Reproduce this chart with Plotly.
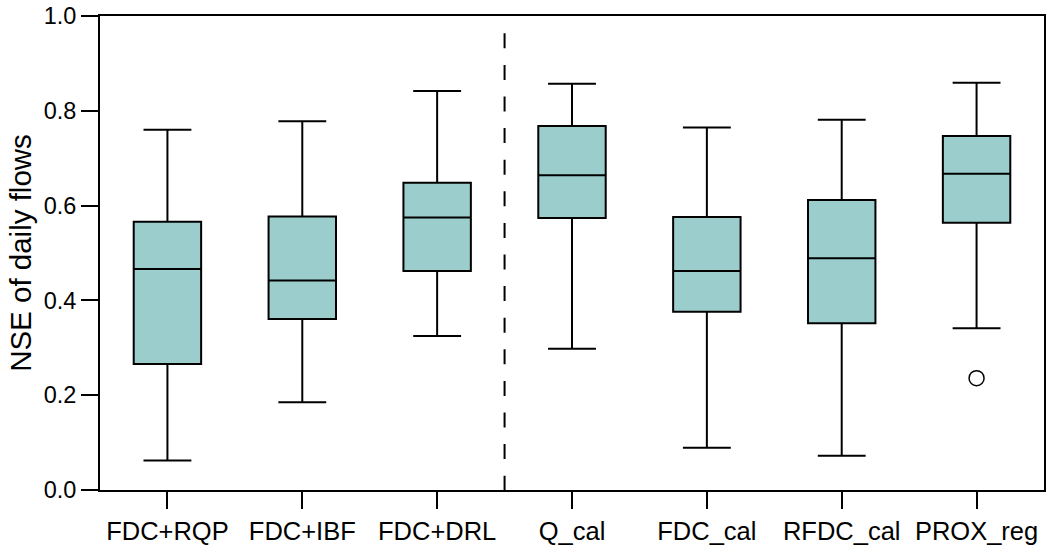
import plotly.graph_objects as go

categories = ["FDC+RQP", "FDC+IBF", "FDC+DRL", "Q_cal", "FDC_cal", "RFDC_cal", "PROX_reg"]
lower_whisker = [0.062, 0.185, 0.325, 0.298, 0.089, 0.072, 0.341]
q1_values = [0.266, 0.361, 0.462, 0.574, 0.376, 0.352, 0.564]
median_values = [0.466, 0.442, 0.575, 0.664, 0.462, 0.489, 0.667]
q3_values = [0.566, 0.577, 0.648, 0.768, 0.576, 0.612, 0.747]
upper_whisker = [0.760, 0.778, 0.842, 0.857, 0.765, 0.781, 0.859]
outlier_category = ["PROX_reg"]
outlier_value = [0.236]
y_ticks = [0.0, 0.2, 0.4, 0.6, 0.8, 1.0]

fig = go.Figure()
fig.add_trace(go.Box(
    x=categories,
    q1=q1_values,
    median=median_values,
    q3=q3_values,
    lowerfence=lower_whisker,
    upperfence=upper_whisker,
    fillcolor="#9BCDCD",
    line=dict(color="black", width=2),
    width=0.5,
    whiskerwidth=0.71,
    boxpoints=False,
    showlegend=False,
    hoverinfo="skip",
))
fig.add_trace(go.Scatter(
    x=outlier_category,
    y=outlier_value,
    mode="markers",
    marker=dict(symbol="circle-open", size=15, color="black", line=dict(width=1.5)),
    showlegend=False,
    hoverinfo="skip",
))

fig.add_shape(type="line", xref="x", yref="paper", x0=2.5, x1=2.5, y0=0.9635, y1=0,
              line=dict(color="black", width=2, dash="15px,16.6px"))

fig.update_layout(
    width=1049, height=546,
    margin=dict(l=100, r=5, t=16, b=56),
    paper_bgcolor="white", plot_bgcolor="white",
    font=dict(family="Arial, Liberation Sans, sans-serif", color="black", size=25),
)
fig.update_xaxes(
    type="category", range=[-0.5, 6.5], automargin=False,
    showline=True, linecolor="black", linewidth=2, mirror=True,
    ticks="outside", ticklen=17, tickwidth=2, tickcolor="black",
    showgrid=False, zeroline=False, ticklabeloverflow="allow",
    tickfont=dict(size=25.5),
)
fig.update_yaxes(
    range=[0, 1], tickvals=y_ticks, tickformat=".1f", automargin=False,
    showline=True, linecolor="black", linewidth=2, mirror=True,
    ticks="outside", ticklen=17, tickwidth=2, tickcolor="black",
    showgrid=False, zeroline=False, ticklabeloverflow="allow",
    tickfont=dict(size=23.5),
    title=dict(text="NSE of daily flows", font=dict(size=29.5), standoff=3),
)

fig.write_html("out.html", config={"displayModeBar": False},
               post_script="document.body.style.margin='0';")
